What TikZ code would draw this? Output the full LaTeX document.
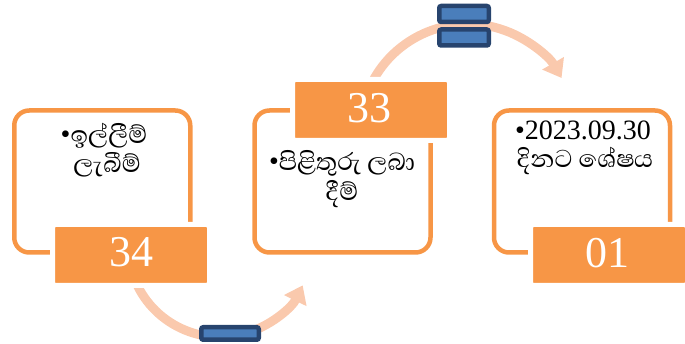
\documentclass[tikz,border=0pt]{standalone}
\usepackage{fontspec}
\setmainfont{Liberation Serif}
\newfontfamily\sinhfont[Script=Sinhala,Scale=1.12]{Abhaya Libre}
\usetikzlibrary{arrows.meta}
\definecolor{orng}{HTML}{F79646}
\definecolor{arcc}{HTML}{FAC9AD}
\definecolor{bdark}{HTML}{27446E}
\definecolor{bfill}{HTML}{4A7EBB}
\begin{document}
\begin{tikzpicture}[x=1pt,y=1pt,
  frame/.style={draw=orng, line width=4.5pt, fill=white, rounded corners=15pt,
    minimum width=176pt, minimum height=142pt, inner sep=0pt},
  lbl/.style={fill=orng, draw=white, line width=5pt, rounded corners=3pt,
    minimum width=157pt, minimum height=61pt, inner sep=0pt},
  num/.style={text=white, font=\fontsize{44}{44}\selectfont, inner sep=0pt, anchor=base},
  body/.style={font=\fontsize{28}{27}\selectfont, inner sep=0pt, anchor=base, align=center},
  flow/.style={draw=arcc, line width=9pt, -{Triangle[length=17pt,width=24pt]}},
  opbar/.style={draw=bdark, fill=bfill, line width=4.5pt, rounded corners=2pt, inner sep=0pt}]
\useasboundingbox (0,0) rectangle (685,344);
% arc centres
\coordinate (c1) at (220,99);
\coordinate (c2) at (468,212);
% flow arrows
\draw[flow] ([shift={(200:92)}]c1) arc[start angle=200, end angle=334, radius=92pt];
\draw[flow] ([shift={(157:108)}]c2) arc[start angle=157, end angle=30, radius=108pt];
% frames
\node[frame] (f1) at (102.25,162.5) {};
\node[frame] (f2) at (342.5,162.5) {};
\node[frame] (f3) at (582,162.5) {};
% labels
\node[lbl] (l1) at (131,89) {};
\node[lbl] (l2) at (371,234) {};
\node[lbl] (l3) at (609,89) {};
\node[num] (n1) at (131,77) {34};
\node[num] (n2) at (369,221) {33};
\node[num] (n3) at (607,76) {01};
% body texts
\node[body] (t1) at (104,171) {•{\sinhfont ඉල්ලීම්}\\[2pt]\hspace*{6pt}{\sinhfont ලැබීම්}};
\node[body] (t2) at (342,143) {•{\sinhfont පිළිතුරු ලබා}\\[3pt]{\sinhfont දීම්}};
\node[body] (t3) at (583,176) {•2023.09.30\\[1pt]\hspace*{4pt}{\sinhfont දිනට ශේෂය}};
% operator signs
\node[opbar, minimum width=57.5pt, minimum height=12.5pt] (minus) at (230,10.5) {};
\node[opbar, minimum width=49.5pt, minimum height=16pt] (eqa) at (464,330) {};
\node[opbar, minimum width=49.5pt, minimum height=16pt] (eqb) at (464,306.5) {};
\end{tikzpicture}
\end{document}
